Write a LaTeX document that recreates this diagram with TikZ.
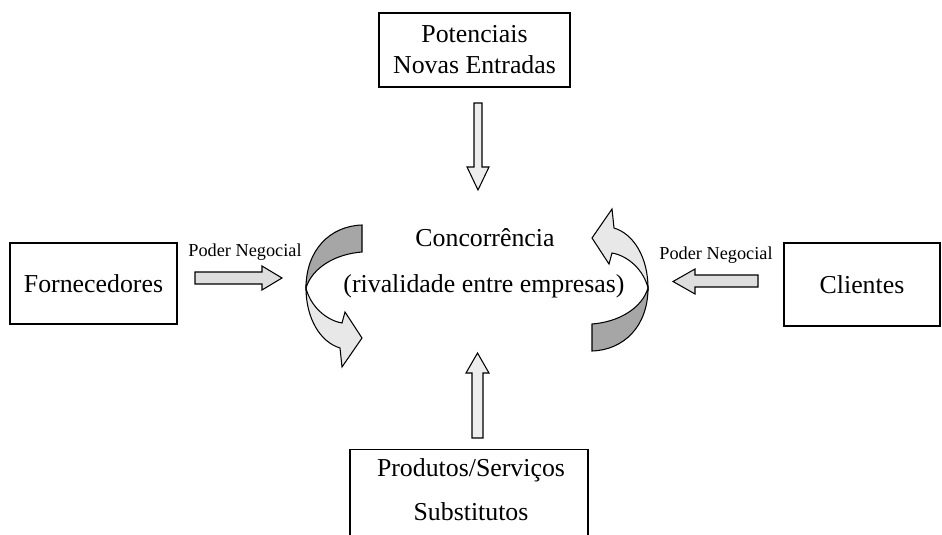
\documentclass[tikz,border=0pt]{standalone}
\usepackage{fontspec}
\setmainfont{Liberation Serif}
\tikzset{
  box/.style={draw, line width=0.8pt, inner sep=0pt, font=\fontsize{14.7}{17.6}\selectfont, align=center},
  lbl/.style={inner sep=0pt, font=\fontsize{14.7}{17.6}\selectfont, align=center},
  smalllbl/.style={inner sep=0pt, font=\fontsize{10.4}{12}\selectfont},
  hblock/.style={draw, line width=0.6pt, fill=black!13},
  vblock/.style={draw, line width=0.6pt, fill=black!7},
  darkpart/.style={draw, line width=0.6pt, fill=black!35},
  lightpart/.style={draw, line width=0.6pt, fill=black!9},
}
\newcommand\twistarrow{%
  \path[darkpart] (362,225) .. controls (330,226) and (306,250) .. (306,288)
     .. controls (312,268) and (335,254) .. (362,252) -- cycle;
  \path[lightpart] (306,288) .. controls (306,318) and (320,342) .. (340,348)
     -- (342,367) -- (362,338) -- (345,312) -- (342,323)
     .. controls (325,320) and (310,305) .. (306,288) -- cycle;
}
\begin{document}
\begin{tikzpicture}[x=0.02cm, y=-0.02cm]
\useasboundingbox (0,0) rectangle (942,534);
\clip (0,0) rectangle (942,534);

% boxes
\node[box, minimum width=3.82cm, minimum height=1.48cm] (pot) at (474.5,50) {Potenciais\\Novas Entradas};
\node[box, minimum width=3.34cm, minimum height=1.62cm] (forn) at (93.5,283.5) {Fornecedores};
\node[box, minimum width=3.12cm, minimum height=1.66cm] (cli) at (862,284.5) {Clientes};
\node[box, minimum width=4.76cm, minimum height=2.3cm, anchor=north] (sub) at (469,449) {};
\node[lbl, font=\fontsize{14.7}{25}\selectfont] (subt) at (471,490) {Produtos/Serviços\\Substitutos};

% center text
\node[lbl] (conc) at (485,238) {Concorrência};
\node[lbl] (riv) at (484,286) {(rivalidade entre empresas)};

% labels
\node[smalllbl] (pn1) at (245,252) {Poder Negocial};
\node[smalllbl] (pn2) at (716,255) {Poder Negocial};

% block arrows
\path[vblock] (474,103) -- (482,103) -- (482,167) -- (489,167) -- (478,190) -- (467,167) -- (474,167) -- cycle;
\path[vblock] (472,438) -- (483,438) -- (483,373) -- (489,373) -- (477.5,353) -- (466,373) -- (472,373) -- cycle;
\path[hblock] (195,272) -- (262,272) -- (262,266) -- (282,278) -- (262,290) -- (262,284) -- (195,284) -- cycle;
\path[hblock] (758,275) -- (695,275) -- (695,269) -- (673,281.5) -- (695,294) -- (695,287) -- (758,287) -- cycle;

% twisted curved arrows
\twistarrow
\begin{scope}[rotate around={180:(477,288)}]
\twistarrow
\end{scope}
\end{tikzpicture}
\end{document}
